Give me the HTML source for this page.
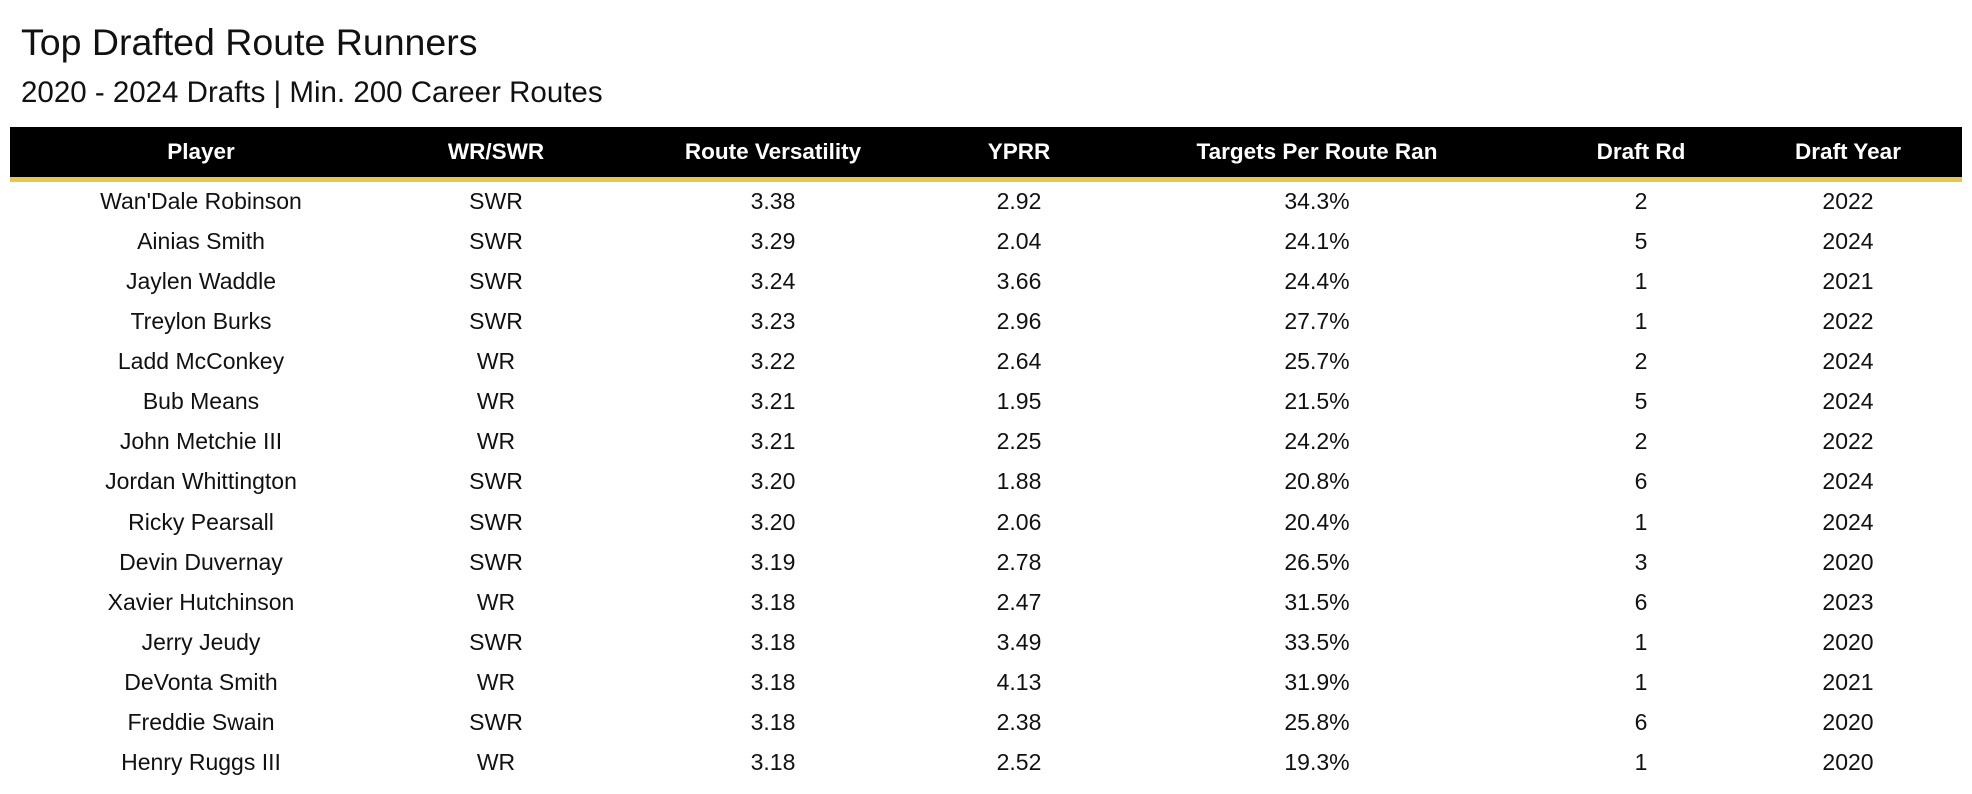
<!DOCTYPE html>
<html><head><meta charset="utf-8"><style>
body{margin:0;width:1972px;height:794px;background:#fff;font-family:"Liberation Sans",sans-serif;color:#111;position:relative;overflow:hidden}
.t{position:absolute;left:21px;top:21px;font-size:37.5px;white-space:nowrap}
.s{position:absolute;left:21px;top:76px;font-size:29.5px;white-space:nowrap}
.hdr{position:absolute;left:10px;top:127px;width:1952px;height:50px;background:#000;border-bottom:5px solid #e6c552}
.c{position:absolute;width:400px;margin-left:-200px;text-align:center;white-space:nowrap}
.h{color:#fff;font-weight:bold;font-size:22.5px;top:12px}
.r{position:absolute;left:0;width:1972px;height:40px}
.r .c{font-size:23px;top:7px}
</style></head><body>
<div class="t">Top Drafted Route Runners</div>
<div class="s">2020 - 2024 Drafts | Min. 200 Career Routes</div>
<div class="hdr"></div>
<div id="rows"></div>
<script>
const cols=["Player","WR/SWR","Route Versatility","YPRR","Targets Per Route Ran","Draft Rd","Draft Year"];
const centers=[201,496,773,1019,1317,1641,1848];
const players=["Wan'Dale Robinson","Ainias Smith","Jaylen Waddle","Treylon Burks","Ladd McConkey","Bub Means","John Metchie III","Jordan Whittington","Ricky Pearsall","Devin Duvernay","Xavier Hutchinson","Jerry Jeudy","DeVonta Smith","Freddie Swain","Henry Ruggs III"];
const pos=["SWR","SWR","SWR","SWR","WR","WR","WR","SWR","SWR","SWR","WR","SWR","WR","SWR","WR"];
const rv=["3.38","3.29","3.24","3.23","3.22","3.21","3.21","3.20","3.20","3.19","3.18","3.18","3.18","3.18","3.18"];
const yprr=["2.92","2.04","3.66","2.96","2.64","1.95","2.25","1.88","2.06","2.78","2.47","3.49","4.13","2.38","2.52"];
const tprr=["34.3%","24.1%","24.4%","27.7%","25.7%","21.5%","24.2%","20.8%","20.4%","26.5%","31.5%","33.5%","31.9%","25.8%","19.3%"];
const rd=["2","5","1","1","2","5","2","6","1","3","6","1","1","6","1"];
const yr=["2022","2024","2021","2022","2024","2024","2022","2024","2024","2020","2023","2020","2021","2020","2020"];
const hdr=document.querySelector('.hdr');
cols.forEach((c,i)=>{const d=document.createElement('div');d.className='c h';d.style.left=(centers[i]-10)+'px';d.textContent=c;


hdr.appendChild(d);});
const rows=document.getElementById('rows');
players.forEach((p,j)=>{const r=document.createElement('div');r.className='r';r.style.top=(181+j*40.07)+'px';


[p,pos[j],rv[j],yprr[j],tprr[j],rd[j],yr[j]].forEach((v,i)=>{const d=document.createElement('div');d.className='c';d.style.left=centers[i]+'px';d.textContent=v;


r.appendChild(d);});rows.appendChild(r);});
</script>
</body></html>
